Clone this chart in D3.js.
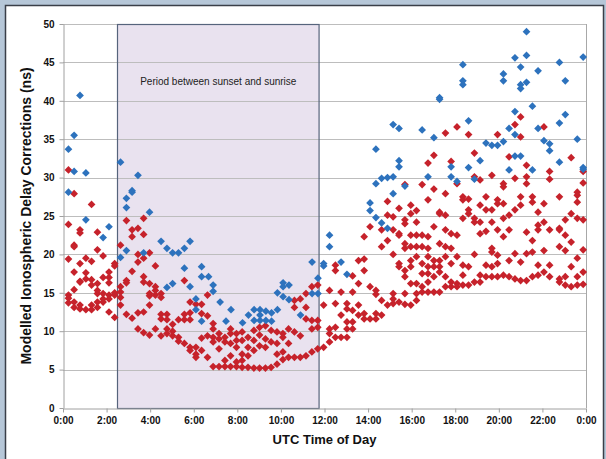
<!DOCTYPE html>
<html>
<head>
<meta charset="utf-8">
<script src="https://cdn.jsdelivr.net/npm/d3@7"></script>
<style>
    html, body { margin: 0; padding: 0; background: #b6c7d8; }
    body { width: 606px; height: 459px; overflow: hidden; }
</style>
</head>
<body>
<div class="visHolder"></div>
<script>
// [hour of day, delay correction in ns]
const bluePoints = [
    [0.25, 33.7], [0.51, 35.5], [0.78, 40.7], [0.51, 30.8], [1.05, 30.6], [0.25, 28.1],
    [1.05, 24.5], [1.84, 22.2], [2.11, 23.6], [2.64, 32.0], [2.91, 27.3], [2.91, 26.1],
    [3.17, 28.3], [3.17, 28.1], [3.44, 30.3], [3.97, 25.5], [2.64, 19.6], [2.91, 20.5],
    [3.70, 20.2], [4.50, 21.7], [4.77, 20.8], [5.03, 20.2], [5.30, 20.2], [5.57, 20.8],
    [5.83, 21.7], [4.77, 15.7], [5.03, 16.2], [5.57, 18.2], [5.83, 15.8], [6.10, 14.2],
    [6.10, 12.8], [6.36, 18.4], [6.36, 17.1], [6.68, 17.1], [6.89, 16.0], [6.89, 15.2],
    [6.36, 11.3], [7.21, 13.8], [7.48, 11.3], [7.71, 12.8], [8.24, 11.1], [8.51, 12.1],
    [8.77, 12.8], [8.77, 11.4], [9.04, 12.8], [9.04, 12.1], [9.04, 11.4], [9.31, 12.6],
    [9.31, 11.4], [9.57, 12.4], [9.57, 11.3], [9.84, 12.8], [9.84, 15.0], [10.10, 16.3],
    [10.10, 15.8], [10.10, 14.5], [10.37, 16.0], [10.37, 14.1], [10.90, 12.1], [11.43, 19.0],
    [11.70, 16.9], [11.70, 14.9], [11.43, 14.9], [11.96, 18.8], [11.96, 18.5], [12.23, 22.5],
    [12.23, 21.0], [12.76, 19.0], [13.03, 17.4], [14.09, 26.7], [14.09, 25.7], [14.36, 33.7],
    [14.36, 29.2], [14.36, 24.8], [14.62, 29.9], [14.89, 30.0], [15.15, 30.1], [14.62, 24.1],
    [14.89, 23.4], [15.15, 27.9], [15.15, 36.9], [15.42, 36.4], [15.42, 32.2], [15.42, 31.4],
    [15.69, 28.9], [16.48, 36.2], [16.75, 30.1], [17.02, 35.2], [17.28, 40.4], [17.28, 40.2],
    [17.81, 31.4], [17.81, 30.1], [18.08, 29.5], [18.35, 44.7], [18.35, 42.6], [18.35, 42.1],
    [18.61, 37.4], [18.61, 31.3], [18.88, 29.8], [19.14, 32.2], [19.41, 34.5], [19.68, 34.2],
    [19.94, 34.2], [20.21, 34.7], [20.21, 43.5], [20.21, 42.6], [20.47, 36.4], [20.47, 31.0],
    [20.74, 45.6], [20.74, 38.6], [20.74, 35.6], [20.74, 32.8], [21.00, 32.8], [21.00, 44.4],
    [21.00, 42.1], [21.00, 41.6], [21.27, 49.0], [21.27, 45.9], [21.27, 42.4], [21.54, 39.3],
    [21.54, 31.0], [21.80, 43.9], [21.80, 36.4], [22.07, 34.8], [22.33, 34.4], [22.33, 33.5],
    [22.78, 45.0], [22.78, 37.1], [22.78, 32.0], [23.05, 42.6], [23.05, 38.2], [23.60, 35.0],
    [23.87, 45.7], [23.87, 31.3], [23.87, 31.1]
];

const redPoints = [
    // 0:00 - 2:30
    [0.25, 31.0], [0.51, 27.9], [1.31, 26.5], [0.25, 23.9], [0.51, 21.2], [0.51, 21.0],
    [0.78, 23.2], [0.78, 22.8], [1.58, 22.9], [0.25, 19.4], [1.05, 19.5], [1.31, 19.1],
    [1.84, 19.8], [1.58, 20.6], [0.51, 17.7], [0.78, 18.8], [0.78, 16.5], [0.78, 16.4],
    [1.05, 17.6], [1.05, 16.8], [1.31, 16.7], [1.31, 16.0], [1.58, 16.2], [1.84, 17.0],
    [2.11, 17.0], [2.11, 17.7], [2.11, 16.3], [2.37, 18.8], [2.37, 18.5], [0.51, 15.4],
    [0.25, 14.7], [0.25, 14.3], [0.25, 13.7], [0.51, 13.8], [0.51, 13.1], [0.78, 13.4],
    [0.78, 12.9], [1.05, 12.8], [1.31, 13.4], [1.31, 12.8], [1.58, 13.8], [1.58, 13.1],
    [1.58, 14.9], [1.84, 14.2], [1.84, 14.9], [2.11, 14.7], [2.11, 14.2], [1.84, 13.8],
    [2.11, 12.5], [2.37, 15.0], [2.37, 14.7], [2.37, 11.8], [1.58, 15.3],
    // 2:30 - 6:30
    [2.64, 21.2], [2.91, 24.4], [3.17, 23.2], [3.17, 22.3], [3.44, 23.4], [3.70, 24.7],
    [3.70, 22.6], [3.44, 20.0], [3.44, 19.0], [3.70, 19.5], [3.97, 20.2], [3.17, 17.8],
    [2.91, 16.6], [2.91, 16.3], [2.64, 15.8], [3.70, 17.1], [3.70, 16.4], [3.97, 16.2],
    [4.24, 18.5], [3.97, 14.9], [3.97, 14.6], [4.24, 15.3], [4.24, 14.7], [4.50, 14.9],
    [4.50, 14.4], [4.24, 15.8], [2.64, 15.1], [2.64, 14.4], [2.64, 13.4], [2.91, 12.2],
    [3.17, 11.7], [3.44, 10.3], [3.70, 9.8], [3.97, 9.5], [3.44, 12.4], [3.70, 12.5],
    [3.97, 13.4], [4.24, 10.3], [4.50, 12.2], [4.50, 11.6], [4.77, 12.2], [4.77, 11.5],
    [4.50, 9.4], [4.77, 10.3], [4.77, 9.7], [5.03, 9.4], [5.03, 10.0], [5.03, 10.9],
    [5.30, 11.5], [5.30, 9.2], [5.30, 8.7], [5.57, 8.4], [5.57, 11.5], [5.57, 12.2],
    [5.83, 12.4], [5.83, 11.5], [5.57, 16.6], [5.83, 13.8], [6.10, 13.5], [5.83, 7.9],
    [5.83, 7.5], [6.10, 7.9], [6.10, 7.0], [6.10, 6.6], [6.36, 7.5], [6.36, 9.1],
    [6.36, 12.3], [6.36, 13.5], [6.63, 9.4], [6.63, 6.6], [6.63, 12.0], [6.63, 14.7],
    // 6:30 - 12:00
    [6.89, 11.0], [6.89, 10.3], [6.89, 9.2], [6.89, 8.6], [6.89, 5.4], [7.16, 9.7],
    [7.16, 9.0], [7.16, 7.7], [7.16, 5.4], [7.43, 9.2], [7.43, 8.6], [7.43, 6.2],
    [7.43, 5.4], [7.69, 10.3], [7.69, 9.7], [7.69, 8.4], [7.69, 6.8], [7.69, 5.4],
    [7.96, 9.7], [7.96, 8.8], [7.96, 7.9], [7.96, 6.0], [7.96, 5.4], [8.22, 9.9],
    [8.22, 8.8], [8.22, 7.0], [8.22, 6.2], [8.22, 5.3], [8.49, 9.2], [8.49, 7.9],
    [8.49, 6.8], [8.49, 5.3], [8.76, 10.1], [8.76, 8.8], [8.76, 7.5], [8.76, 5.2],
    [9.02, 10.5], [9.02, 9.5], [9.02, 8.1], [9.02, 5.2], [9.29, 10.7], [9.29, 9.0],
    [9.29, 7.9], [9.29, 5.2], [9.55, 10.1], [9.55, 8.6], [9.55, 5.3], [9.82, 9.9],
    [9.82, 7.0], [9.82, 5.7], [9.82, 8.4], [10.09, 9.2], [10.09, 7.3], [10.09, 6.3],
    [10.35, 8.4], [10.35, 6.6], [10.62, 9.9], [10.62, 6.6], [10.89, 9.4], [10.89, 6.6],
    [11.15, 6.8], [11.42, 7.3], [11.69, 7.7], [10.62, 13.1], [10.62, 14.0], [10.89, 14.2],
    [11.15, 14.9], [11.15, 13.1], [11.15, 11.6], [11.42, 11.4], [11.42, 10.3], [11.42, 15.8],
    [11.69, 16.0], [11.69, 11.4], [11.69, 10.5], [10.35, 10.3], [10.09, 9.7],
    // 12:00 - 14:00
    [11.96, 7.9], [11.96, 13.4], [12.23, 15.3], [12.23, 8.6], [12.23, 9.7], [12.23, 10.3],
    [12.50, 13.6], [12.50, 9.2], [12.50, 18.6], [12.50, 17.9], [12.50, 10.5], [12.76, 9.2],
    [12.76, 12.1], [12.76, 15.1], [13.03, 13.6], [13.03, 12.9], [13.03, 9.2], [13.03, 11.2],
    [13.03, 10.3], [13.29, 12.7], [13.29, 11.2], [13.29, 10.3], [13.29, 17.2], [13.29, 15.1],
    [13.56, 16.2], [13.56, 13.4], [13.56, 19.2], [13.56, 12.1], [13.82, 17.9], [13.82, 19.4],
    [13.82, 22.3], [13.82, 12.3], [13.82, 11.6], [14.09, 11.6], [14.09, 23.6], [14.09, 15.8],
    // 14:00 - 18:00
    [14.36, 12.3], [14.36, 11.6], [14.36, 15.3], [14.36, 14.8], [14.62, 12.1], [14.62, 21.0],
    [14.62, 23.2], [14.62, 14.0], [14.89, 13.4], [14.89, 21.8], [14.89, 25.1], [14.89, 26.9],
    [15.15, 14.9], [15.15, 14.2], [15.15, 13.6], [15.15, 20.0], [15.15, 23.2], [15.15, 24.9],
    [15.42, 26.0], [15.42, 22.7], [15.42, 22.5], [15.42, 18.8], [15.42, 18.4], [15.42, 13.8],
    [15.69, 29.1], [15.69, 24.5], [15.69, 24.0], [15.69, 21.4], [15.69, 20.8], [15.69, 17.9],
    [15.69, 17.1], [15.69, 14.9], [15.69, 13.5], [15.96, 26.4], [15.96, 25.3], [15.96, 22.5],
    [15.96, 21.0], [15.96, 19.2], [15.96, 18.4], [15.96, 16.2], [15.96, 13.4], [16.22, 25.7],
    [16.22, 24.2], [16.22, 22.5], [16.22, 21.0], [16.22, 19.7], [16.22, 16.2], [16.22, 14.9],
    [16.22, 14.0], [16.48, 29.1], [16.48, 22.5], [16.48, 21.0], [16.48, 18.8], [16.48, 17.5],
    [16.48, 15.8], [16.48, 15.1], [16.75, 31.9], [16.75, 27.1], [16.75, 22.3], [16.75, 20.8],
    [16.75, 19.7], [16.75, 18.4], [16.75, 17.5], [16.75, 16.4], [16.75, 15.1], [17.02, 32.9],
    [17.02, 28.5], [17.02, 23.6], [17.02, 19.2], [17.02, 18.4], [17.02, 17.1], [17.02, 15.1],
    [17.28, 25.5], [17.28, 25.3], [17.28, 21.4], [17.28, 19.2], [17.28, 18.4], [17.28, 17.7],
    [17.28, 15.1], [17.55, 35.8], [17.55, 27.9], [17.55, 25.1], [17.55, 23.2], [17.55, 21.0],
    [17.55, 19.7], [17.55, 17.1], [17.55, 15.8], [17.81, 32.1], [17.81, 22.7], [17.81, 20.8],
    [17.81, 18.8], [17.81, 16.4], [17.81, 15.8],
    // 18:00 - 24:00
    [18.08, 36.6], [18.08, 29.2], [18.08, 22.5], [18.08, 19.7], [18.08, 16.2], [18.08, 15.8],
    [18.35, 27.5], [18.35, 27.1], [18.35, 24.7], [18.35, 18.6], [18.35, 17.3], [18.35, 16.0],
    [18.61, 35.6], [18.61, 27.2], [18.61, 25.8], [18.61, 25.3], [18.61, 18.4], [18.61, 16.0],
    [18.88, 33.2], [18.88, 30.1], [18.88, 24.7], [18.88, 24.2], [18.88, 20.0], [18.88, 16.4],
    [19.14, 29.7], [19.14, 26.4], [19.14, 24.2], [19.14, 22.7], [19.14, 17.3], [19.14, 16.4],
    [19.41, 27.5], [19.41, 25.8], [19.41, 23.0], [19.41, 18.6], [19.41, 17.1], [19.68, 30.3],
    [19.68, 25.8], [19.68, 24.2], [19.68, 20.8], [19.68, 20.3], [19.68, 18.4], [19.68, 17.1],
    [19.94, 35.6], [19.94, 27.1], [19.94, 26.6], [19.94, 23.2], [19.94, 19.9], [19.94, 18.8],
    [19.94, 17.1], [20.21, 29.2], [20.21, 28.8], [20.21, 26.6], [20.21, 24.7], [20.21, 22.3],
    [20.21, 17.3], [20.47, 32.7], [20.47, 25.1], [20.47, 23.2], [20.47, 19.2], [20.47, 17.1],
    [20.74, 36.9], [20.74, 29.9], [20.74, 25.8], [20.74, 20.1], [20.74, 16.8], [21.00, 37.9],
    [21.00, 35.3], [21.00, 27.5], [21.00, 26.4], [21.00, 19.0], [21.00, 16.6], [21.27, 31.6],
    [21.27, 30.1], [21.27, 29.2], [21.27, 22.9], [21.27, 20.1], [21.27, 16.6], [21.54, 27.5],
    [21.54, 26.8], [21.54, 21.8], [21.54, 20.3], [21.54, 17.1], [21.80, 25.5], [21.80, 23.8],
    [21.80, 23.2], [21.80, 18.6], [21.80, 17.3], [22.07, 36.6], [22.07, 26.6], [22.07, 24.2],
    [22.07, 20.5], [22.07, 17.7], [22.33, 30.8], [22.33, 29.8], [22.33, 23.2], [22.33, 18.6],
    [22.33, 17.1], [22.78, 27.5], [22.78, 23.4], [22.78, 23.2], [22.78, 21.0], [22.78, 16.8],
    [22.78, 16.4], [23.05, 24.5], [23.05, 22.5], [23.05, 20.5], [23.05, 17.1], [23.05, 16.0],
    [23.32, 32.6], [23.32, 25.3], [23.32, 21.6], [23.32, 18.4], [23.32, 15.8], [23.60, 28.1],
    [23.60, 27.7], [23.60, 26.8], [23.60, 24.7], [23.60, 19.5], [23.60, 17.1], [23.60, 16.0],
    [23.87, 30.8], [23.87, 29.3], [23.87, 24.5], [23.87, 20.6], [23.87, 17.7], [23.87, 16.1]
];

const xTicks = [0, 2, 4, 6, 8, 10, 12, 14, 16, 18, 20, 22, 24];
const xTickLabels = ["0:00", "2:00", "4:00", "6:00", "8:00", "10:00", "12:00",
    "14:00", "16:00", "18:00", "20:00", "22:00", "0:00"];
const yTicks = [0, 5, 10, 15, 20, 25, 30, 35, 40, 45, 50];
const nightPeriod = [2.5, 11.75];
const nightLabel = "Period between sunset and sunrise";

const w = 606;
const h = 459;
const plotLeft = 63, plotRight = 586, plotTop = 24, plotBottom = 408;
const font = "'Liberation Sans', Arial, sans-serif";

const svg = d3.select(".visHolder")
    .append("svg")
    .attr("width", w)
    .attr("height", h)
    .style("display", "block");

// outer frame
svg.append("rect")
    .attr("x", 0).attr("y", 0)
    .attr("width", w).attr("height", h)
    .attr("fill", "#b6c7d8");

svg.append("rect")
    .attr("x", 5.5).attr("y", 5.5)
    .attr("width", 598).attr("height", 460)
    .attr("fill", "#ffffff")
    .attr("stroke", "#3a3f48")
    .attr("stroke-width", 1.5);

const xScale = d3.scaleLinear().domain([0, 24]).range([plotLeft, plotRight]);
const yScale = d3.scaleLinear().domain([0, 50]).range([plotBottom, plotTop]);

// night shading
svg.append("rect")
    .attr("x", xScale(nightPeriod[0]))
    .attr("y", yScale(50))
    .attr("width", xScale(nightPeriod[1]) - xScale(nightPeriod[0]))
    .attr("height", yScale(0) - yScale(50))
    .attr("fill", "#e9e2ef");

// horizontal gridlines
svg.append("g")
    .selectAll("line")
    .data(yTicks.filter(d => d > 0))
    .enter()
    .append("line")
    .attr("x1", plotLeft)
    .attr("x2", plotRight)
    .attr("y1", d => Math.round(yScale(d)) + 0.5)
    .attr("y2", d => Math.round(yScale(d)) + 0.5)
    .attr("stroke", "#bdbdbd")
    .attr("stroke-width", 1.2);

svg.append("rect")
    .attr("x", Math.round(xScale(nightPeriod[0])) + 0.5)
    .attr("y", Math.round(yScale(50)) + 0.5)
    .attr("width", xScale(nightPeriod[1]) - xScale(nightPeriod[0]))
    .attr("height", yScale(0) - yScale(50))
    .attr("fill", "none")
    .attr("stroke", "#56647c")
    .attr("stroke-width", 1.2);

// right border
svg.append("line")
    .attr("x1", plotRight + 0.5).attr("x2", plotRight + 0.5)
    .attr("y1", plotTop).attr("y2", plotBottom)
    .attr("stroke", "#a8a8a8");

// axes
const xAxis = d3.axisBottom(xScale)
    .tickValues(xTicks)
    .tickFormat((d, i) => xTickLabels[i])
    .tickSize(4)
    .tickSizeOuter(0);

const gx = svg.append("g")
    .attr("id", "x-axis")
    .attr("transform", `translate(0, ${plotBottom + 0.5})`)
    .call(xAxis);

const yAxis = d3.axisLeft(yScale)
    .tickValues(yTicks)
    .tickSize(4)
    .tickSizeOuter(0);

const gy = svg.append("g")
    .attr("id", "y-axis")
    .attr("transform", `translate(${plotLeft + 0.5}, 0)`)
    .call(yAxis);

[gx, gy].forEach(g => {
    g.select(".domain").attr("stroke", "#a0a0a0");
    g.selectAll(".tick line").attr("stroke", "#a0a0a0");
    g.selectAll(".tick text")
        .attr("fill", "#111")
        .style("font-family", font)
        .style("font-size", "10px")
        .style("font-weight", "bold");
});
gx.selectAll(".tick text").attr("dy", "0.95em").attr("y", 6);
gy.selectAll(".tick text").attr("x", -9);

// points
const diamond = d3.symbol().type(d3.symbolSquare).size(30);

const drawSeries = (data, colour) => {
    svg.append("g")
        .selectAll("path")
        .data(data)
        .enter()
        .append("path")
        .attr("d", diamond)
        .attr("transform", d => `translate(${xScale(d[0])}, ${yScale(d[1])}) rotate(45)`)
        .attr("fill", colour);
};
drawSeries(redPoints, "#c6222b");
drawSeries(bluePoints, "#2d72bd");

// labels
svg.append("text")
    .attr("x", xScale((nightPeriod[0] + nightPeriod[1]) / 2))
    .attr("y", 85)
    .attr("text-anchor", "middle")
    .style("font-family", font)
    .style("font-size", "10px")
    .attr("fill", "#222")
    .text(nightLabel);

svg.append("text")
    .attr("x", (plotLeft + plotRight) / 2)
    .attr("y", 444)
    .attr("text-anchor", "middle")
    .style("font-family", font)
    .style("font-size", "13px")
    .style("font-weight", "bold")
    .attr("fill", "#111")
    .text("UTC Time of Day");

svg.append("text")
    .attr("transform", `translate(31, ${(plotTop + plotBottom) / 2}) rotate(-90)`)
    .attr("text-anchor", "middle")
    .style("font-family", font)
    .style("font-size", "14px")
    .style("font-weight", "bold")
    .attr("fill", "#111")
    .text("Modelled Ionospheric Delay Corrections (ns)");
</script>
</body>
</html>
